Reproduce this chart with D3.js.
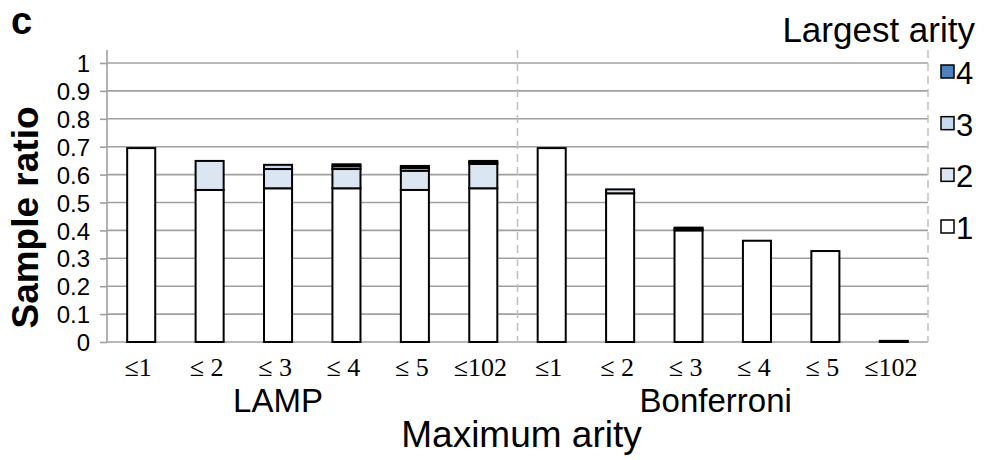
<!DOCTYPE html>
<html>
<head>
<meta charset="utf-8">
<script src="https://cdn.jsdelivr.net/npm/d3@7/dist/d3.min.js"></script>
<style>
  html, body { margin: 0; padding: 0; background: #fff; }
  svg { display: block; }
</style>
</head>
<body>
<svg id="chart" width="984" height="460"></svg>
<script>
// Methods and their threshold categories
const methods = ["LAMP", "Bonferroni"];
const arityLabels = ["≤1", "≤ 2", "≤ 3", "≤ 4", "≤ 5", "≤102"];

// Sample ratio, split by the largest arity found (stacked 1 → 4)
const arity1 = [0.695, 0.545, 0.551, 0.551, 0.545, 0.551,   0.695, 0.533, 0.400, 0.363, 0.326, 0.004];
const arity2 = [0.000, 0.104, 0.069, 0.069, 0.069, 0.087,   0.000, 0.014, 0.005, 0.000, 0.000, 0.000];
const arity3 = [0.000, 0.000, 0.015, 0.010, 0.010, 0.006,   0.000, 0.000, 0.005, 0.000, 0.000, 0.000];
const arity4 = [0.000, 0.000, 0.000, 0.007, 0.007, 0.005,   0.000, 0.000, 0.000, 0.000, 0.000, 0.000];

const yTicks = [0, 0.1, 0.2, 0.3, 0.4, 0.5, 0.6, 0.7, 0.8, 0.9, 1];
const legendKeys = ["4", "3", "2", "1"];
const arityColors = { "1": "#ffffff", "2": "#dce6f2", "3": "#c6d9f1", "4": "#4f81bd" };

const sans = "'Liberation Sans', Arial, Helvetica, sans-serif";
const serif = "'Liberation Serif', 'Times New Roman', serif";

const svg = d3.select("#chart");
const margin = { left: 107, right: 928, top: 63, bottom: 342 };

// Rows: one per bar
const rows = [];
methods.forEach((m, mi) => {
  arityLabels.forEach((lab, li) => {
    const i = mi * arityLabels.length + li;
    rows.push({ key: m + "|" + lab, method: m, label: lab,
      "1": arity1[i], "2": arity2[i], "3": arity3[i], "4": arity4[i] });
  });
});

const x = d3.scaleBand().domain(rows.map(d => d.key))
  .range([margin.left, margin.right]).paddingInner(0).paddingOuter(0);
const y = d3.scaleLinear().domain([0, 1]).range([margin.bottom, margin.top]);

const barW = x.bandwidth() * 0.41;

// Horizontal gridlines
svg.append("g").selectAll("line").data(yTicks).join("line")
  .attr("x1", margin.left).attr("x2", margin.right)
  .attr("y1", d => y(d)).attr("y2", d => y(d))
  .attr("stroke", "#a0a0a0").attr("stroke-width", 1.6);

// Dashed separators between methods and at the right edge
const sepX = [x(rows[6].key), margin.right];
svg.append("g").selectAll("line").data(sepX).join("line")
  .attr("x1", d => d).attr("x2", d => d)
  .attr("y1", 50).attr("y2", margin.bottom)
  .attr("stroke", "#c0c0c0").attr("stroke-width", 1.5)
  .attr("stroke-dasharray", "8,5");

// Y axis
const yAxis = d3.axisLeft(y).tickValues(yTicks).tickSize(7).tickPadding(10)
  .tickFormat(d => d3.format("")(+d.toFixed(1)));
const gy = svg.append("g").attr("transform", `translate(${margin.left},0)`).call(yAxis);
gy.select(".domain").attr("stroke", "#a0a0a0").attr("stroke-width", 1.6)
  .attr("d", `M0,${y(0)}V50`);
gy.selectAll(".tick line").attr("stroke", "#a0a0a0").attr("stroke-width", 1.6);
gy.selectAll(".tick text").attr("font-family", sans).attr("font-size", 24)
  .attr("fill", "#000").attr("dy", "0.36em");

// Stacked bars
const stack = d3.stack().keys(["1", "2", "3", "4"]);
const series = stack(rows);
svg.append("g").selectAll("g").data(series).join("g")
  .attr("fill", s => arityColors[s.key])
  .selectAll("rect").data(s => s.filter(d => d[1] - d[0] > 0)).join("rect")
  .attr("x", d => x(d.data.key) + (x.bandwidth() - barW) / 2)
  .attr("width", barW)
  .attr("y", d => y(d[1]))
  .attr("height", d => y(d[0]) - y(d[1]))
  .attr("stroke", "#000").attr("stroke-width", 2);

// X tick labels
svg.append("g").selectAll("text").data(rows).join("text")
  .attr("x", d => x(d.key) + x.bandwidth() / 2 - 3)
  .attr("y", 376)
  .attr("text-anchor", "middle")
  .attr("font-family", serif).attr("font-size", 26)
  .text(d => d.label);

// Method labels, centred under their groups
const methodX = { "LAMP": x("LAMP|≤ 3") + x.bandwidth() / 2, "Bonferroni": x("Bonferroni|≤ 4") - 7 };
svg.append("g").selectAll("text").data(methods).join("text")
  .attr("x", m => methodX[m])
  .attr("y", 412)
  .attr("text-anchor", "middle")
  .attr("font-family", sans).attr("font-size", 33)
  .text(d => d);

// Axis titles
svg.append("text").attr("x", (margin.left + margin.right) / 2 + 4).attr("y", 447)
  .attr("text-anchor", "middle").attr("font-family", sans).attr("font-size", 37)
  .text("Maximum arity");

svg.append("text")
  .attr("transform", `translate(38,${(margin.top + margin.bottom) / 2 + 15}) rotate(-90)`)
  .attr("text-anchor", "middle").attr("font-family", sans).attr("font-size", 37)
  .attr("font-weight", "bold")
  .text("Sample ratio");

// Panel letter
svg.append("text").attr("x", 11).attr("y", 34)
  .attr("font-family", sans).attr("font-size", 38).attr("font-weight", 900)
  .text("c");

// Legend
svg.append("text").attr("x", 975).attr("y", 42).attr("text-anchor", "end")
  .attr("font-family", sans).attr("font-size", 35)
  .text("Largest arity");

const legY = d3.scalePoint().domain(legendKeys).range([73, 228]);
const leg = svg.append("g").selectAll("g").data(legendKeys).join("g")
  .attr("transform", d => `translate(941,${legY(d)})`);
leg.append("rect").attr("x", 0).attr("y", -8).attr("width", 13).attr("height", 13)
  .attr("fill", d => arityColors[d]).attr("stroke", "#000").attr("stroke-width", 1.5);
leg.append("text").attr("x", 15).attr("y", 11)
  .attr("font-family", sans).attr("font-size", 31)
  .text(d => d);
</script>
</body>
</html>
